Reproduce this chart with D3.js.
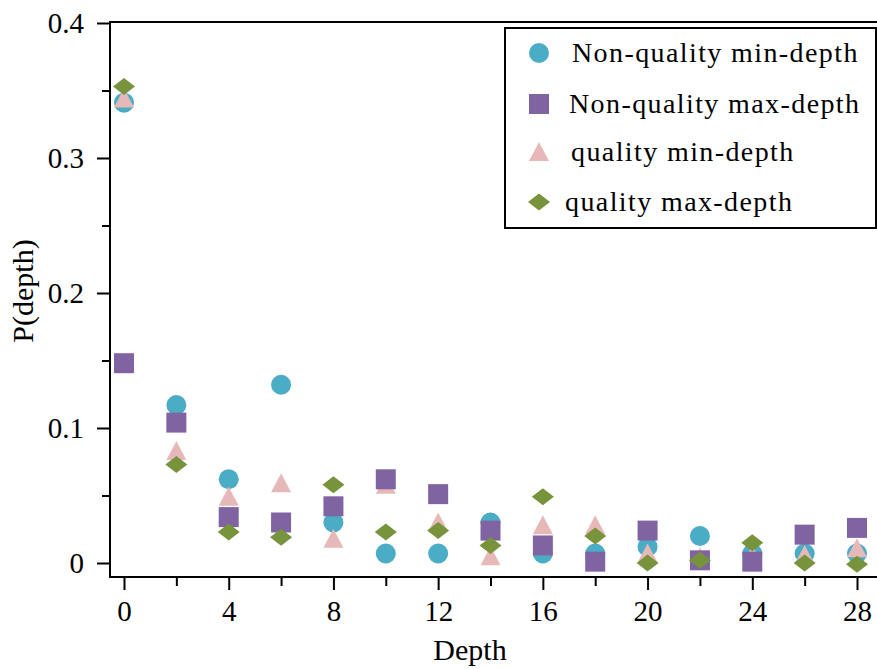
<!DOCTYPE html>
<html>
<head>
<meta charset="utf-8">
<script src="https://cdn.jsdelivr.net/npm/d3@7/dist/d3.min.js"></script>
<style>
  html, body { margin: 0; padding: 0; background: #fff; }
  svg text { font-family: "Times New Roman", "Liberation Serif", Times, serif; fill: #000; }
</style>
</head>
<body>
<svg id="chart" width="877" height="669"></svg>
<script>
// depth values (x)
const depths = [0, 2, 4, 6, 8, 10, 12, 14, 16, 18, 20, 22, 24, 26, 28];

// P(depth) per series
const nonQualityMin = [0.341, 0.117, 0.062, 0.132, 0.030, 0.007, 0.007, 0.030, 0.007, 0.007, 0.012, 0.020, 0.007, 0.007, 0.007];
const nonQualityMax = [0.148, 0.104, 0.034, 0.030, 0.042, 0.062, 0.051, 0.024, 0.013, 0.001, 0.024, 0.002, 0.001, 0.021, 0.026];
const qualityMin    = [0.344, 0.083, 0.049, 0.059, 0.018, 0.058, 0.030, 0.005, 0.028, 0.028, 0.007, 0.004, 0.006, 0.006, 0.011];
const qualityMax    = [0.353, 0.073, 0.023, 0.019, 0.058, 0.023, 0.024, 0.013, 0.049, 0.020, 0.000, 0.002, 0.015, 0.000, -0.001];

const seriesNames = ['Non-quality min-depth', 'Non-quality max-depth', 'quality min-depth', 'quality max-depth'];

const xTicksMajor = [0, 4, 8, 12, 16, 20, 24, 28];
const xTicksMinor = [2, 6, 10, 14, 18, 22, 26];
const yTicksMajor = [0, 0.1, 0.2, 0.3, 0.4];
const yTicksMinor = [0.05, 0.15, 0.25, 0.35];

// marker styles (drawn in this order: circle, triangle, square, diamond)
const styles = [
  { name: seriesNames[0], values: nonQualityMin, color: '#4bacc6', shape: 'circle' },
  { name: seriesNames[1], values: nonQualityMax, color: '#8064a2', shape: 'square' },
  { name: seriesNames[2], values: qualityMin,    color: '#e6b9b8', shape: 'triangle' },
  { name: seriesNames[3], values: qualityMax,    color: '#77933c', shape: 'diamond' }
];
const drawOrder = [0, 2, 1, 3];

const svg = d3.select('#chart');
const plot = { left: 110, top: 22, right: 877, bottom: 577 };

const x = d3.scaleLinear().domain([0, 28]).range([124, 857]);
const y = d3.scaleLinear().domain([0, 0.4]).range([563, 23]);

function shapePath(shape) {
  switch (shape) {
    case 'circle':   return 'M10,0A10,10 0 1,1 -10,0A10,10 0 1,1 10,0Z';
    case 'square':   return 'M-10,-10H10V10H-10Z';
    case 'triangle': return 'M0,-10L10,9L-10,9Z';
    case 'diamond':  return 'M0,-8.5L11,0L0,8.5L-11,0Z';
  }
}

// axes
const yAxis = d3.axisLeft(y).tickValues(yTicksMajor).tickSize(13).tickPadding(13)
  .tickFormat(d => d === 0 ? '0' : d3.format('.1f')(d));
const gy = svg.append('g').attr('transform', `translate(${plot.left},0)`).call(yAxis);
gy.attr('font-family', null);
gy.select('.domain').remove();
gy.selectAll('.tick line').attr('stroke', '#000').attr('stroke-width', 2);
gy.selectAll('.tick text').style('font-size', '29px').attr('dy', '0.34em');

const gym = svg.append('g').attr('transform', `translate(${plot.left},0)`)
  .call(d3.axisLeft(y).tickValues(yTicksMinor).tickSize(8).tickFormat(''));
gym.select('.domain').remove();
gym.selectAll('.tick line').attr('stroke', '#000').attr('stroke-width', 2);

const xAxis = d3.axisBottom(x).tickValues(xTicksMajor).tickSize(13).tickPadding(10);
const gx = svg.append('g').attr('transform', `translate(0,${plot.bottom})`).call(xAxis);
gx.attr('font-family', null);
gx.select('.domain').remove();
gx.selectAll('.tick line').attr('stroke', '#000').attr('stroke-width', 2);
gx.selectAll('.tick text').style('font-size', '29px');

const gxm = svg.append('g').attr('transform', `translate(0,${plot.bottom})`)
  .call(d3.axisBottom(x).tickValues(xTicksMinor).tickSize(9).tickFormat(''));
gxm.select('.domain').remove();
gxm.selectAll('.tick line').attr('stroke', '#000').attr('stroke-width', 2);

// frame lines
svg.append('path')
  .attr('d', `M${plot.right},${plot.top}H${plot.left}V${plot.bottom}H${plot.right}`)
  .attr('fill', 'none').attr('stroke', '#000').attr('stroke-width', 2);

// axis titles
svg.append('text').attr('x', 470).attr('y', 660).attr('text-anchor', 'middle')
  .style('font-size', '30px').text('Depth');
svg.append('text').attr('transform', 'translate(33,291) rotate(-90)').attr('text-anchor', 'middle')
  .style('font-size', '30px').text('P(depth)');

// markers
drawOrder.forEach(i => {
  const s = styles[i];
  svg.append('g').selectAll('path')
    .data(depths.map((d, j) => ({ d, v: s.values[j] })))
    .join('path')
      .attr('transform', p => `translate(${x(p.d)},${y(p.v)})`)
      .attr('d', shapePath(s.shape))
      .attr('fill', s.color);
});

// legend
const lg = svg.append('g');
lg.append('rect').attr('x', 505).attr('y', 28).attr('width', 371).attr('height', 200)
  .attr('fill', '#fff').attr('stroke', '#000').attr('stroke-width', 2);
const legendRows = [53, 104, 152, 202];
const legendTextX = [572, 569, 571, 565];
styles.forEach((s, i) => {
  lg.append('path').attr('transform', `translate(539,${legendRows[i]})`)
    .attr('d', shapePath(s.shape)).attr('fill', s.color);
  lg.append('text').attr('x', legendTextX[i]).attr('y', legendRows[i] + 9)
    .style('font-size', '28px').style('letter-spacing', '1.4px').text(s.name);
});
</script>
</body>
</html>
